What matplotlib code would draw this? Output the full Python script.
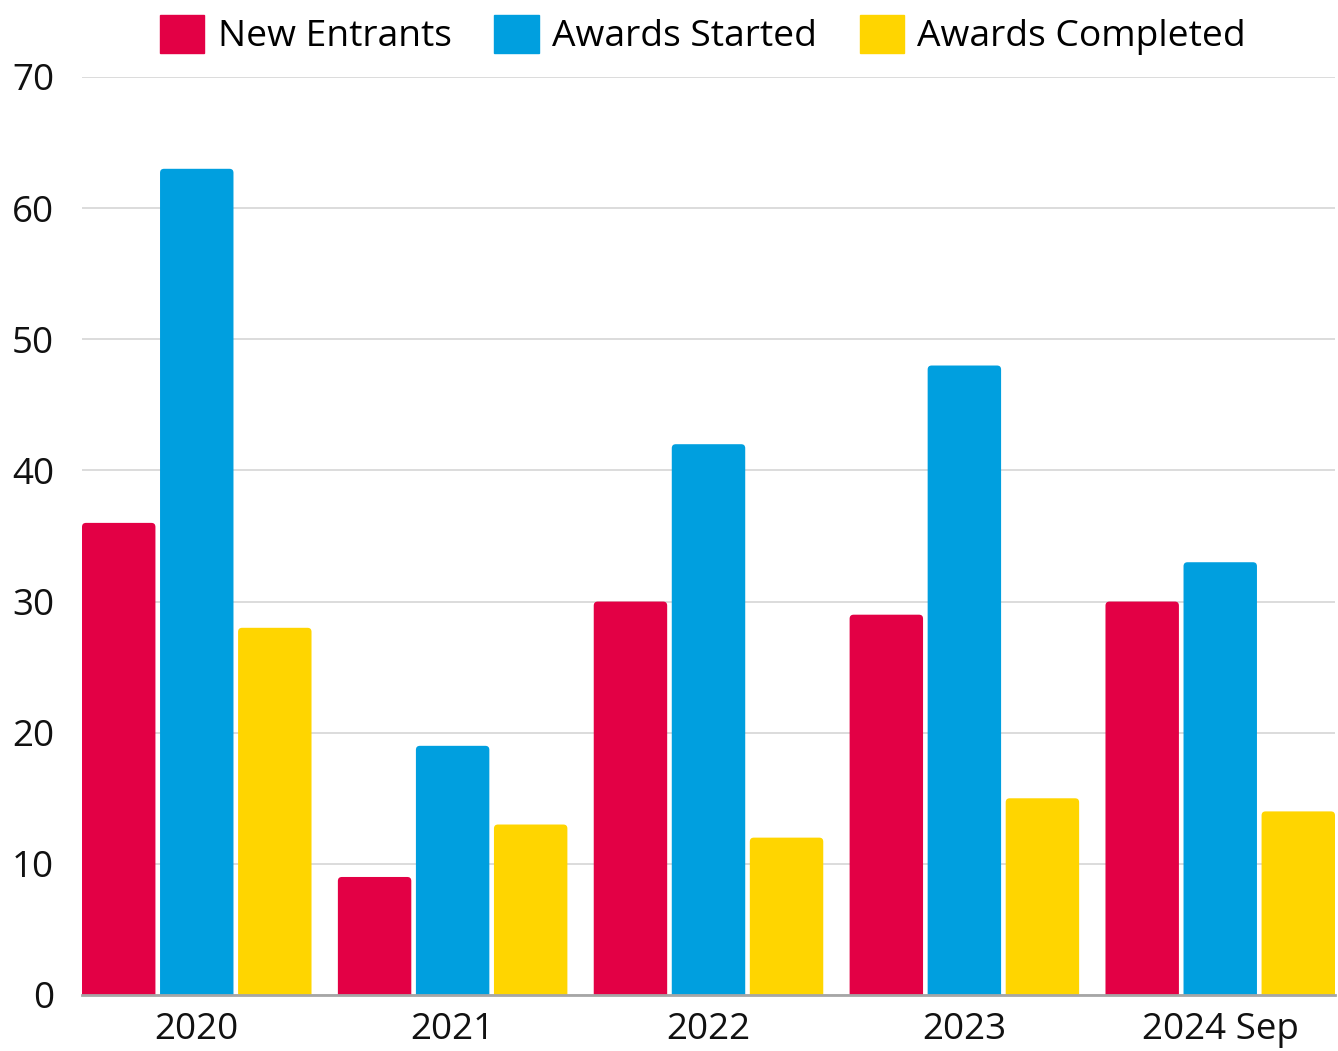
import matplotlib.pyplot as plt
from matplotlib.patches import FancyBboxPatch
import numpy as np

years = ['2020', '2021', '2022', '2023', '2024 Sep']
new_entrants = [36, 9, 30, 29, 30]
awards_started = [63, 19, 42, 48, 33]
awards_completed = [28, 13, 12, 15, 14]

series = ['New Entrants', 'Awards Started', 'Awards Completed']
colors = ['#E30045', '#009FDF', '#FFD500']

plt.rcParams['font.family'] = ['Open Sans', 'DejaVu Sans']

fig = plt.figure(figsize=(13.38, 10.51), dpi=100)
ax = fig.add_axes([82 / 1338, 1 - 995 / 1051, 1253 / 1338, 918 / 1051])

x = np.arange(len(years))
pitch = 0.305
width = 0.287
# rounding of top corners: ~4px in both directions
rx = 4 / 256
aspect = 256 / (918 / 70)

for i, (vals, col, name) in enumerate(zip([new_entrants, awards_started, awards_completed], colors, series)):
    bars = ax.bar(x + (i - 1) * pitch, vals, width, color=col, label=name)
    for b in bars:
        b.set_visible(False)
        p = FancyBboxPatch((b.get_x(), -2), b.get_width(), b.get_height() + 2,
                           boxstyle='round,pad=0,rounding_size=%f' % rx,
                           mutation_aspect=aspect, facecolor=col, edgecolor='none',
                           clip_on=True, zorder=3)
        ax.add_patch(p)

ax.set_xlim(-pitch - width / 2, len(years) - 1 + pitch + width / 2)
ax.set_ylim(0, 70)
ax.set_yticks(range(0, 71, 10))
ax.set_xticks(x)
ax.set_xticklabels(years)

ax.grid(axis='y', color='#d9d9d9', linewidth=1.3, zorder=0)
ax.set_axisbelow(True)
for s in ['top', 'right', 'left']:
    ax.spines[s].set_visible(False)
ax.spines['bottom'].set_color('#a6a6a6')
ax.spines['bottom'].set_linewidth(2)
ax.spines['bottom'].set_zorder(4)
ax.tick_params(axis='both', length=0, labelsize=26.5, colors='#111111')
ax.tick_params(axis='y', pad=20)
ax.tick_params(axis='x', pad=12)

handles = [plt.Rectangle((0, 0), 1, 1, color=c) for c in colors]
fig.legend(handles, series, loc='upper center', bbox_to_anchor=(0.5254, 1.018),
           ncol=3, frameon=False, fontsize=26.8, handlelength=1.2, handleheight=1.2,
           handletextpad=0.35, columnspacing=1.15)

fig.savefig('out.png', dpi=100)
